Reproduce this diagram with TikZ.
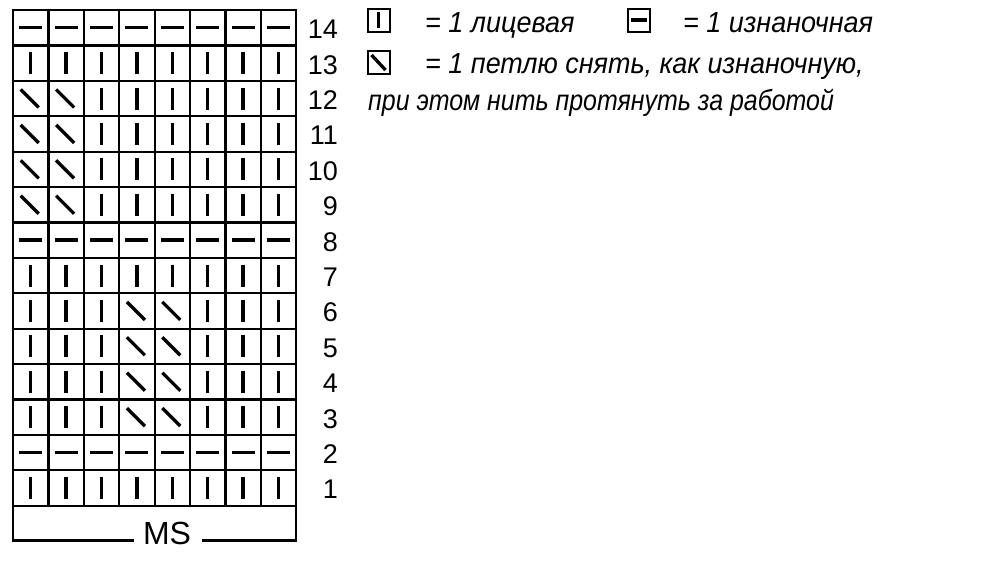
\documentclass[tikz,border=0pt]{standalone}
\usepackage{fontspec}
\setmainfont{Liberation Sans}
\newfontfamily\legfont{Liberation Sans}[FakeStretch=0.93]
\newfontfamily\legfontb{Liberation Sans}[FakeStretch=0.86]
\newcommand\cellx[1]{13+(#1-0.5)*35.4}
\newcommand\celly[1]{10+(14.5-#1)*35.4}
\newcommand\symK[2]{\draw[symline] ({\cellx{#1}},{\celly{#2}-11}) -- ++(0,22);}
\newcommand\symP[2]{\draw[symline] ({\cellx{#1}-11.5},{\celly{#2}}) -- ++(23,0);}
\newcommand\symS[2]{\draw[symline] ({\cellx{#1}-10},{\celly{#2}-9}) -- ++(18,18);}
\tikzset{
  gridline/.style={line width=2.2pt, line cap=rect},
  symline/.style={line width=3.3pt},
  rownum/.style={anchor=base east, inner sep=0pt, font=\fontsize{27}{27}\selectfont},
  legbox/.style={draw, line width=2pt, minimum width=22pt, minimum height=23pt, inner sep=0pt},
  legtext/.style={anchor=base west, inner sep=0pt, font=\legfont\itshape\fontsize{29}{29}\selectfont},
}
\begin{document}
\begin{tikzpicture}[x=1pt,y=-1pt]
\useasboundingbox (0,0) rectangle (1000,566);
% grid
\foreach \i in {0,...,8} \draw[gridline] ({13+\i*35.4},10) -- ({13+\i*35.4},505.6);
\foreach \j in {0,...,14} \draw[gridline] (13,{10+\j*35.4}) -- (296.2,{10+\j*35.4});
% MS box
\node[inner sep=0pt, font=\fontsize{32}{32}\selectfont] (ms) at (167,533) {MS};
\coordinate (msl) at (13,540.5);
\coordinate (msr) at (296.2,540.5);
\draw[gridline] (13,505.6) -- (msl) -- (133,540.5);
\draw[gridline] (296.2,505.6) -- (msr) -- (203,540.5);
% symbols
\foreach \r in {14,8,2} {\foreach \c in {1,...,8} {\symP{\c}{\r}}}
\foreach \r in {13,7,1} {\foreach \c in {1,...,8} {\symK{\c}{\r}}}
\foreach \r in {12,11,10,9} {
  \foreach \c in {1,2} {\symS{\c}{\r}}
  \foreach \c in {3,...,8} {\symK{\c}{\r}}
}
\foreach \r in {6,5,4,3} {
  \foreach \c in {1,2,3,6,7,8} {\symK{\c}{\r}}
  \foreach \c in {4,5} {\symS{\c}{\r}}
}
% row numbers
\foreach \r in {1,...,14} {\node[rownum] (n\r) at (338,{\celly{\r}+11}) {\r};}
% legend
\node[legbox] (bk) at (378.5,20) {};
\draw[symline] ([yshift=-4.5pt]bk.north) -- ([yshift=4.5pt]bk.south);
\node[legtext] (tk) at (425,32) {= 1 лицевая};
\node[legbox] (bp) at (639,20) {};
\draw[symline] ([xshift=4pt]bp.west) -- ([xshift=-4pt]bp.east);
\node[legtext] (tp) at (683,32) {= 1 изнаночная};
\node[legbox] (bs) at (378.5,62.5) {};
\draw[symline] ([shift={(5pt,-5pt)}]bs.north west) -- ([shift={(-5pt,5pt)}]bs.south east);
\node[legtext] (ts) at (425,73) {= 1 петлю снять, как изнаночную,};
\node[legtext, font=\legfontb\itshape\fontsize{29}{29}\selectfont] (ts2) at (368,110) {при этом нить протянуть за работой};
\end{tikzpicture}
\end{document}
